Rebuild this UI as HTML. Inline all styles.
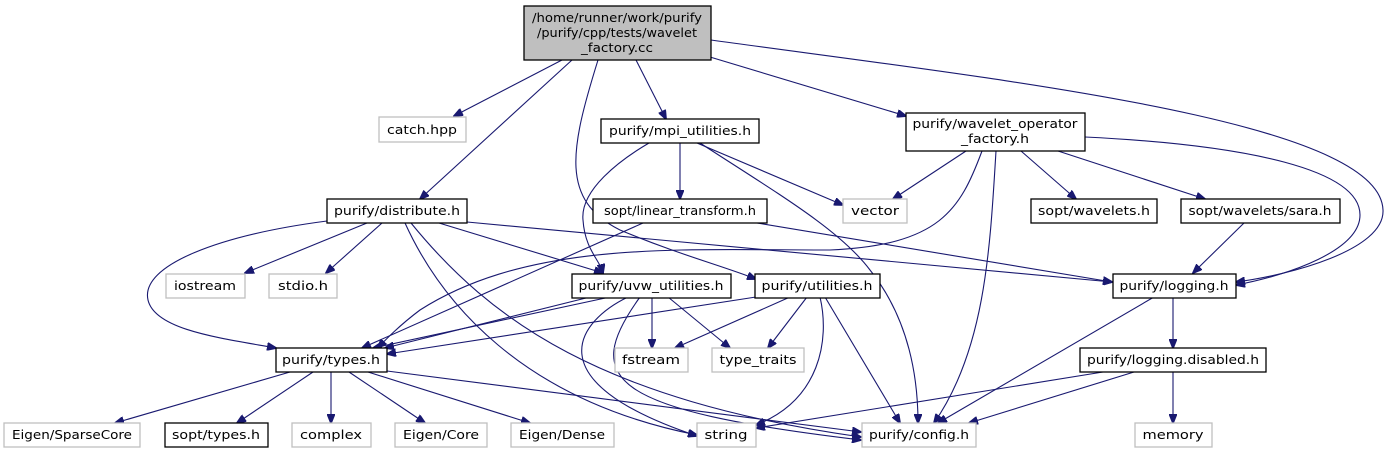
<!DOCTYPE html>
<html><head><meta charset="utf-8"><style>
html,body{margin:0;padding:0;background:#fff;}
svg{display:block;}
text{font-family:"DejaVu Sans","Liberation Sans",sans-serif;font-size:12px;fill:#000;}
.e{fill:none;stroke:#191970;stroke-width:1.1;marker-end:url(#a);}
.n{fill:#fff;stroke:#000;stroke-width:1.3;}
.g{fill:#fff;stroke:#bfbfbf;stroke-width:1.3;}
</style></head><body>
<svg width="1387" height="455" viewBox="0 0 1387 455" xmlns="http://www.w3.org/2000/svg">
<defs><marker id="a" markerWidth="10" markerHeight="8" refX="9" refY="4" orient="auto" markerUnits="userSpaceOnUse"><path d="M0,0 L10,4 L0,8 z" fill="#191970" stroke="#191970"/></marker></defs>
<!-- edges -->
<path class="e" d="M562,60 L454,116"/>
<path class="e" d="M572,60 L420,199"/>
<path class="e" d="M636,60 L666,119"/>
<path class="e" d="M710,57 L906,116"/>
<path class="e" d="M711,40 C1000,80 1380,120 1383,210 C1385,250 1290,275 1236,282"/>
<path class="e" d="M598,60 C570,150 560,200 620,230 C680,255 720,265 756,279"/>
<path class="e" d="M680,143 L680,199"/>
<path class="e" d="M697,143 L843,205"/>
<path class="e" d="M649,143 C620,160 580,190 583,220 C585,250 600,260 603,273"/>
<path class="e" d="M700,143 C780,195 840,230 870,270 C910,320 918,380 918,423"/>
<path class="e" d="M966,151 L893,199"/>
<path class="e" d="M982,151 C960,210 940,245 830,250 C680,250 530,240 420,310 C400,325 385,340 378,348"/>
<path class="e" d="M996,151 C990,250 985,350 934,423"/>
<path class="e" d="M1021,151 L1076,199"/>
<path class="e" d="M1058,151 L1205,199"/>
<path class="e" d="M1085,137 C1250,145 1360,170 1360,215 C1360,250 1290,275 1236,285"/>
<path class="e" d="M327,221 C220,235 140,265 148,300 C155,330 220,338 276,348"/>
<path class="e" d="M367,223 L245,273"/>
<path class="e" d="M382,223 L326,273"/>
<path class="e" d="M405,223 C440,300 520,400 697,435"/>
<path class="e" d="M411,223 C490,320 600,400 861,437"/>
<path class="e" d="M439,223 L603,273"/>
<path class="e" d="M467,222 L1112,282"/>
<path class="e" d="M643,223 L362,348"/>
<path class="e" d="M757,223 L1112,282"/>
<path class="e" d="M610,297 L373,348"/>
<path class="e" d="M590,297 L385,348"/>
<path class="e" d="M652,297 L652,348"/>
<path class="e" d="M668,297 L730,348"/>
<path class="e" d="M628,297 C580,320 530,380 697,436"/>
<path class="e" d="M640,297 C580,380 610,410 861,440"/>
<path class="e" d="M756,297 L387,354"/>
<path class="e" d="M790,297 L675,348"/>
<path class="e" d="M807,297 L768,348"/>
<path class="e" d="M820,297 C830,340 820,400 756,425"/>
<path class="e" d="M825,297 L900,423"/>
<path class="e" d="M1244,223 L1193,273"/>
<path class="e" d="M1173,297 L1173,348"/>
<path class="e" d="M1154,297 L938,423"/>
<path class="e" d="M1103,372 L756,428"/>
<path class="e" d="M1134,372 L969,423"/>
<path class="e" d="M1173,372 L1173,423"/>
<path class="e" d="M290,372 L115,423"/>
<path class="e" d="M313,372 L237,423"/>
<path class="e" d="M331,372 L331,423"/>
<path class="e" d="M349,372 L425,423"/>
<path class="e" d="M368,372 L530,423"/>
<path class="e" d="M387,371 L861,432"/>
<!-- nodes -->
<rect x="524" y="6" width="187" height="54" fill="#bfbfbf" stroke="#000" stroke-width="1.3"/>
<text x="617" y="22" text-anchor="middle" textLength="170" lengthAdjust="spacingAndGlyphs">/home/runner/work/purify</text>
<text x="617" y="37" text-anchor="middle" textLength="160" lengthAdjust="spacingAndGlyphs">/purify/cpp/tests/wavelet</text>
<text x="617" y="52" text-anchor="middle" textLength="72" lengthAdjust="spacingAndGlyphs">_factory.cc</text>
<rect class="g" x="379" y="117" width="87" height="25"/><text x="422" y="134" text-anchor="middle" textLength="70" lengthAdjust="spacingAndGlyphs">catch.hpp</text>
<rect class="n" x="601" y="119" width="158" height="24"/><text x="680" y="135" text-anchor="middle" textLength="142" lengthAdjust="spacingAndGlyphs">purify/mpi_utilities.h</text>
<rect class="n" x="906" y="113" width="179" height="38"/><text x="995" y="128" text-anchor="middle" textLength="165" lengthAdjust="spacingAndGlyphs">purify/wavelet_operator</text><text x="995" y="143" text-anchor="middle" textLength="68" lengthAdjust="spacingAndGlyphs">_factory.h</text>
<rect class="n" x="327" y="199" width="140" height="24"/><text x="397" y="215" text-anchor="middle" textLength="126" lengthAdjust="spacingAndGlyphs">purify/distribute.h</text>
<rect class="n" x="593" y="199" width="174" height="24"/><text x="680" y="215" text-anchor="middle" textLength="152" lengthAdjust="spacingAndGlyphs">sopt/linear_transform.h</text>
<rect class="g" x="843" y="199" width="64" height="24"/><text x="875" y="215" text-anchor="middle" textLength="48" lengthAdjust="spacingAndGlyphs">vector</text>
<rect class="n" x="1031" y="199" width="126" height="24"/><text x="1094" y="215" text-anchor="middle" textLength="112" lengthAdjust="spacingAndGlyphs">sopt/wavelets.h</text>
<rect class="n" x="1181" y="199" width="159" height="24"/><text x="1260" y="215" text-anchor="middle" textLength="143" lengthAdjust="spacingAndGlyphs">sopt/wavelets/sara.h</text>
<rect class="g" x="166" y="274" width="79" height="24"/><text x="205" y="290" text-anchor="middle" textLength="62" lengthAdjust="spacingAndGlyphs">iostream</text>
<rect class="g" x="269" y="274" width="68" height="24"/><text x="303" y="290" text-anchor="middle" textLength="50" lengthAdjust="spacingAndGlyphs">stdio.h</text>
<rect class="n" x="572" y="274" width="159" height="24"/><text x="651" y="290" text-anchor="middle" textLength="145" lengthAdjust="spacingAndGlyphs">purify/uvw_utilities.h</text>
<rect class="n" x="755" y="274" width="125" height="24"/><text x="817" y="290" text-anchor="middle" textLength="111" lengthAdjust="spacingAndGlyphs">purify/utilities.h</text>
<rect class="n" x="1113" y="274" width="123" height="24"/><text x="1174" y="290" text-anchor="middle" textLength="109" lengthAdjust="spacingAndGlyphs">purify/logging.h</text>
<rect class="n" x="276" y="348" width="111" height="24"/><text x="331" y="364" text-anchor="middle" textLength="98" lengthAdjust="spacingAndGlyphs">purify/types.h</text>
<rect class="g" x="615" y="348" width="73" height="24"/><text x="651" y="364" text-anchor="middle" textLength="58" lengthAdjust="spacingAndGlyphs">fstream</text>
<rect class="g" x="712" y="348" width="92" height="24"/><text x="758" y="364" text-anchor="middle" textLength="77" lengthAdjust="spacingAndGlyphs">type_traits</text>
<rect class="n" x="1080" y="348" width="186" height="24"/><text x="1173" y="364" text-anchor="middle" textLength="172" lengthAdjust="spacingAndGlyphs">purify/logging.disabled.h</text>
<rect class="g" x="4" y="423" width="136" height="24"/><text x="72" y="439" text-anchor="middle" textLength="120" lengthAdjust="spacingAndGlyphs">Eigen/SparseCore</text>
<rect class="n" x="165" y="423" width="103" height="24"/><text x="216" y="439" text-anchor="middle" textLength="88" lengthAdjust="spacingAndGlyphs">sopt/types.h</text>
<rect class="g" x="292" y="423" width="79" height="24"/><text x="331" y="439" text-anchor="middle" textLength="62" lengthAdjust="spacingAndGlyphs">complex</text>
<rect class="g" x="395" y="423" width="92" height="24"/><text x="441" y="439" text-anchor="middle" textLength="76" lengthAdjust="spacingAndGlyphs">Eigen/Core</text>
<rect class="g" x="511" y="423" width="103" height="24"/><text x="562" y="439" text-anchor="middle" textLength="86" lengthAdjust="spacingAndGlyphs">Eigen/Dense</text>
<rect class="g" x="697" y="423" width="59" height="24"/><text x="726" y="439" text-anchor="middle" textLength="43" lengthAdjust="spacingAndGlyphs">string</text>
<rect class="g" x="862" y="423" width="114" height="24"/><text x="919" y="439" text-anchor="middle" textLength="100" lengthAdjust="spacingAndGlyphs">purify/config.h</text>
<rect class="g" x="1135" y="423" width="77" height="24"/><text x="1173" y="439" text-anchor="middle" textLength="61" lengthAdjust="spacingAndGlyphs">memory</text>
</svg>
</body></html>
